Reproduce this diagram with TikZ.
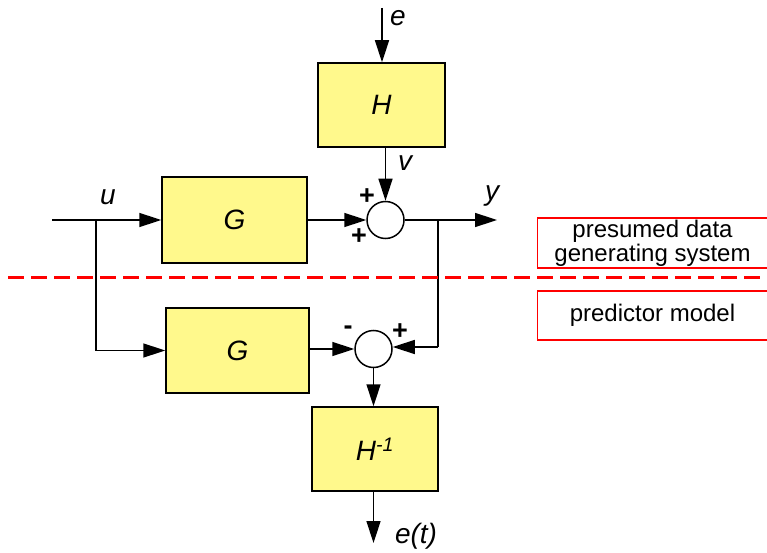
\documentclass[tikz,border=0pt]{standalone}
\usepackage{fontspec}
\setmainfont{Liberation Sans}
\usetikzlibrary{arrows.meta}
\begin{document}
\begin{tikzpicture}[x=1pt,y=-1pt,
  blk/.style={draw=black,line width=1.5pt,fill=yellow!45,inner sep=0pt,font=\fontsize{28}{30}\selectfont\itshape},
  sumc/.style={draw=black,line width=1.5pt,circle,fill=white,minimum size=37pt,inner sep=0pt},
  lbl/.style={font=\fontsize{28}{30}\selectfont\itshape,inner sep=0pt},
  sgn/.style={font=\fontsize{27}{28}\selectfont\bfseries,inner sep=0pt},
  txtbox/.style={draw=red,line width=1.2pt,inner sep=0pt,font=\fontsize{24}{24}\selectfont,align=center},
  sig/.style={line width=1.5pt,-{Triangle[length=22pt,width=14pt]}},
  wire/.style={line width=1.5pt}]
\useasboundingbox (0,0) rectangle (767,553);
% blocks
\node[blk,minimum width=127pt,minimum height=84pt] (H) at (381.5,105) {H};
\node[blk,minimum width=145pt,minimum height=86pt] (G1) at (234.5,220) {G};
\node[blk,minimum width=143pt,minimum height=85pt] (G2) at (237.5,350.5) {G};
\node[blk,minimum width=126pt,minimum height=84pt] (Hi) at (375,449) {H\textsuperscript{-1}};
\node[sumc] (s1) at (385.5,220) {};
\node[sumc] (s2) at (373.5,349) {};
% coordinates
\coordinate (etop) at (382,8);
\coordinate (uin) at (52,220);
\coordinate (b1) at (96,220);
\coordinate (yout) at (497,220);
\coordinate (b2) at (438,220);
\coordinate (fb) at (438,347);
\coordinate (eend) at (373.5,543);
% connectors
\draw[sig] (etop) -- (etop |- H.north);
\draw[sig] (s1 |- H.south) -- (s1.north);
\draw[sig] (uin) -- (G1.west);
\draw[sig] (G1.east) -- (s1.west);
\draw[sig] (s1.east) -- (yout);
\draw[wire] (b1) |- (b1 |- G2.west);
\draw[sig] (b1 |- G2.west) -- (G2.west);
\draw[wire] (b2) -- (fb);
\draw[sig] (fb) -- (s2.east |- fb);
\draw[sig] (G2.east |- s2) -- (s2.west);
\draw[sig] (s2.south) -- (s2 |- Hi.north);
\draw[sig] (eend |- Hi.south) -- (eend);
% labels
\node[lbl] (le) at (398,18) {e};
\node[lbl] (lv) at (405,163) {v};
\node[lbl] (ly) at (492,196) {y};
\node[lbl] (lu) at (108,197) {u};
\node[lbl] (let) at (416,536) {e(t)};
\node[sgn] (p1) at (367,197) {+};
\node[sgn] (p2) at (359,237) {+};
\node[sgn] (m2) at (348,330) {-};
\node[sgn] (p3) at (400,332) {+};
% separator
\draw[red,line width=3pt,dash pattern=on 16pt off 7pt] (8,277) -- (767,277);
\node[txtbox,minimum width=230pt,minimum height=50pt] (t1) at (652.5,243) {presumed data\\generating system};
\node[txtbox,minimum width=230pt,minimum height=49pt] (t2) at (652.5,315.5) {predictor model};
\end{tikzpicture}
\end{document}
